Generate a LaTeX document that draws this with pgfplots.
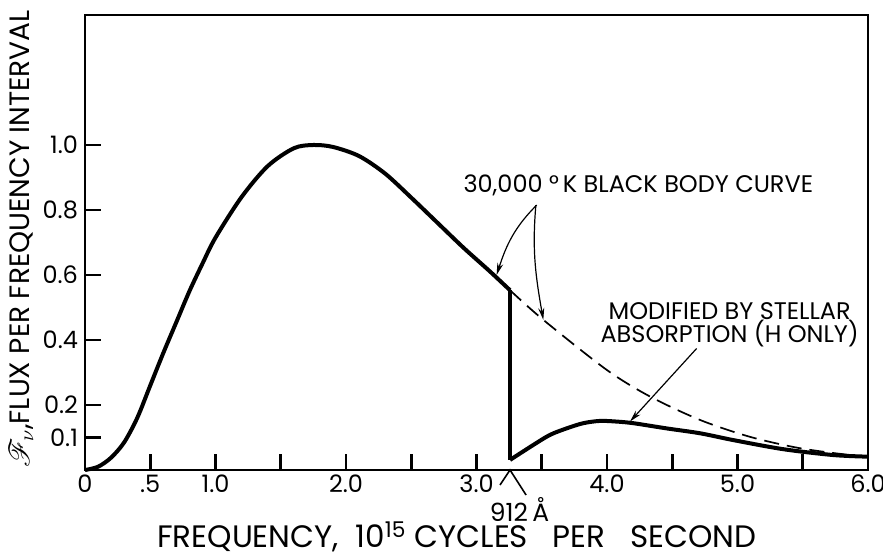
\documentclass[border=0pt]{standalone}
\usepackage{pgfplots}
\pgfplotsset{compat=1.18}
\usepackage{fontspec}
\setmainfont{Poppins}
\usepackage{mathrsfs}
\usetikzlibrary{arrows.meta}
\begin{document}
\begin{tikzpicture}
\path[use as bounding box] (-42.5pt,-43.5pt) rectangle (399pt,235pt);
\begin{axis}[
  at={(0pt,0pt)}, anchor=south west,
  scale only axis, width=391.5pt, height=227.5pt,
  xmin=0, xmax=6, ymin=0, ymax=1.4,
  axis line style={line width=1pt},
  xtick={0,0.5,1,1.5,2,2.5,3,3.5,4,4.5,5,5.5,6},
  xticklabels={0,.5,1.0,,2.0,,3.0,,4.0,,5.0,,6.0},
  ytick={0.1,0.2,0.4,0.6,0.8,1.0},
  yticklabels={0.1,0.2,0.4,0.6,0.8,1.0},
  tick align=inside, xtick pos=left, ytick pos=left,
  major tick length=8pt,
  tick style={line width=1.3pt, black},
  tick label style={font=\fontsize{12}{14}\selectfont},
  xticklabel style={yshift=1pt},
  clip=false,
]
% 30,000 K black body, rising part
\addplot[black, line width=2pt, smooth] coordinates {
 (0,0) (0.1,0.010) (0.2,0.038) (0.3,0.085) (0.4,0.160) (0.5,0.260)
 (0.6,0.360) (0.7,0.455) (0.8,0.550) (0.9,0.635) (1.0,0.715)
 (1.2,0.840) (1.4,0.935) (1.6,0.990) (1.75,1.000) (1.9,0.994)
 (2.1,0.966) (2.3,0.912) (2.5,0.838) (2.7,0.761) (2.9,0.684)
 (3.1,0.612) (3.257,0.553)};
% Lyman edge drop
\addplot[black, line width=2pt] coordinates {(3.257,0.553) (3.257,0.031)};
% modified by stellar absorption
\addplot[black, line width=2pt, smooth] coordinates {
 (3.257,0.031) (3.435,0.077) (3.563,0.108) (3.69,0.128) (3.818,0.144)
 (3.946,0.151) (4.074,0.149) (4.202,0.144) (4.457,0.128) (4.713,0.113)
 (4.968,0.092) (5.351,0.064) (5.734,0.046) (6.0,0.041)};
% black body continuation (dashed)
\addplot[black, line width=0.85pt, smooth, dash pattern=on 7.5pt off 4pt] coordinates {
 (3.257,0.553) (3.512,0.462) (3.998,0.308) (4.33,0.226) (4.713,0.154)
 (5.096,0.102) (5.479,0.067) (5.862,0.046) (6.0,0.041)};

\node[font=\fontsize{12}{14}\selectfont] at (axis cs:4.24,0.877) {30,000 °\,K BLACK BODY CURVE};
\draw[line width=0.6pt, -{Stealth[length=6pt,width=3pt]}] (axis cs:3.461,0.815) to[out=225,in=72] (axis cs:3.154,0.60);
\draw[line width=0.6pt, -{Stealth[length=6pt,width=3pt]}] (axis cs:3.455,0.815) to[out=265,in=100] (axis cs:3.512,0.462);
\node[font=\fontsize{12}{11.5}\selectfont, align=center] at (axis cs:4.94,0.447) {MODIFIED BY STELLAR\\ABSORPTION (H ONLY)};
\draw[line width=0.6pt, -{Stealth[length=6pt,width=3pt]}] (axis cs:4.687,0.374) -- (axis cs:4.176,0.149);

\draw[line width=0.8pt] (axis cs:3.18,-0.046) -- (axis cs:3.257,0) -- (axis cs:3.38,-0.077);
\node[font=\fontsize{12.5}{14}\selectfont] at (axis cs:3.33,-0.123) {912\,Å};

\node[font=\fontsize{15.5}{17}\selectfont, anchor=base, inner sep=0pt] at (rel axis cs:0.475,-0.171) {FREQUENCY,\ \ 10\textsuperscript{15} CYCLES\ \ \ PER\ \ \ SECOND};
\node[rotate=90, font=\fontsize{14}{16}\selectfont, anchor=base, inner sep=0pt] at (rel axis cs:-0.0715,0.508) {$\mathscr{F}_{\nu}$,FLUX PER FREQUENCY INTERVAL};
\end{axis}
\end{tikzpicture}
\end{document}
